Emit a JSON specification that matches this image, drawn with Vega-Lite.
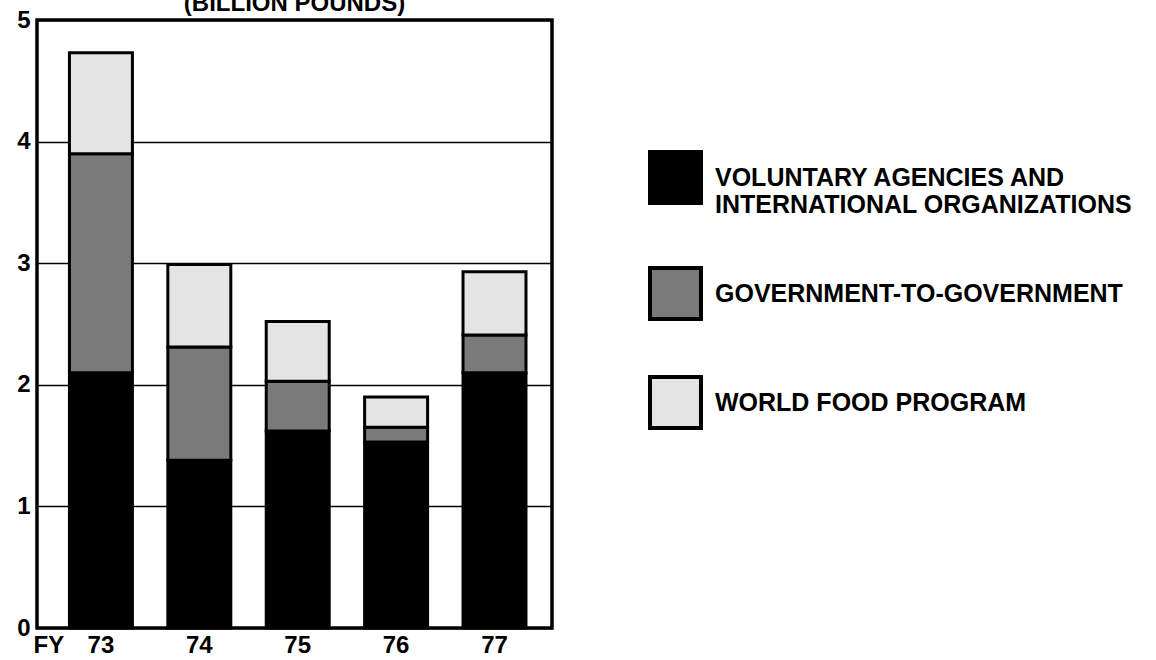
{
  "$schema": "https://vega.github.io/schema/vega-lite/v6.json",
  "autosize": {"type": "none"},
  "padding": {"left": 37, "top": 20, "right": 604, "bottom": 32},
  "width": 515,
  "height": 608,
  "background": "white",
  "title": {"text": "(BILLION POUNDS)", "fontSize": 24, "fontWeight": "bold", "font": "Liberation Sans", "color": "black", "anchor": "middle", "baseline": "alphabetic", "offset": -27, "frame": "group"},
  "data": {"values": [
    {"year": "73", "program": "VOLUNTARY AGENCIES AND INTERNATIONAL ORGANIZATIONS", "rank": 1, "value": 2.10},
    {"year": "73", "program": "GOVERNMENT-TO-GOVERNMENT", "rank": 2, "value": 1.80},
    {"year": "73", "program": "WORLD FOOD PROGRAM", "rank": 3, "value": 0.83},
    {"year": "74", "program": "VOLUNTARY AGENCIES AND INTERNATIONAL ORGANIZATIONS", "rank": 1, "value": 1.38},
    {"year": "74", "program": "GOVERNMENT-TO-GOVERNMENT", "rank": 2, "value": 0.93},
    {"year": "74", "program": "WORLD FOOD PROGRAM", "rank": 3, "value": 0.68},
    {"year": "75", "program": "VOLUNTARY AGENCIES AND INTERNATIONAL ORGANIZATIONS", "rank": 1, "value": 1.62},
    {"year": "75", "program": "GOVERNMENT-TO-GOVERNMENT", "rank": 2, "value": 0.41},
    {"year": "75", "program": "WORLD FOOD PROGRAM", "rank": 3, "value": 0.49},
    {"year": "76", "program": "VOLUNTARY AGENCIES AND INTERNATIONAL ORGANIZATIONS", "rank": 1, "value": 1.53},
    {"year": "76", "program": "GOVERNMENT-TO-GOVERNMENT", "rank": 2, "value": 0.12},
    {"year": "76", "program": "WORLD FOOD PROGRAM", "rank": 3, "value": 0.25},
    {"year": "77", "program": "VOLUNTARY AGENCIES AND INTERNATIONAL ORGANIZATIONS", "rank": 1, "value": 2.10},
    {"year": "77", "program": "GOVERNMENT-TO-GOVERNMENT", "rank": 2, "value": 0.31},
    {"year": "77", "program": "WORLD FOOD PROGRAM", "rank": 3, "value": 0.52}
  ]},
  "mark": {"type": "bar", "stroke": "black", "strokeWidth": 3, "opacity": 1},
  "encoding": {
    "x": {
      "field": "year", "type": "nominal",
      "scale": {"paddingInner": 0.36, "paddingOuter": 0.297, "align": 0.555},
      "axis": {"title": "FY", "titleX": -4, "titleY": 5, "titleAlign": "left", "titleBaseline": "top", "titleFontSize": 24, "titleFontWeight": "bold", "titleFont": "Liberation Sans", "titleColor": "black",
               "labelAngle": 0, "labelFontSize": 24, "labelFontWeight": "bold", "labelFont": "Liberation Sans", "labelColor": "black", "ticks": false, "domain": false, "labelPadding": 5}
    },
    "y": {
      "field": "value", "type": "quantitative", "stack": "zero",
      "scale": {"domain": [0, 5], "nice": false},
      "axis": {"title": null, "values": [0, 1, 2, 3, 4, 5], "grid": true, "gridColor": "black", "gridWidth": 1.5, "gridOpacity": 1, "domain": false, "ticks": false,
               "labelFontSize": 24, "labelFontWeight": "bold", "labelFont": "Liberation Sans", "labelColor": "black", "labelPadding": 7}
    },
    "order": {"field": "rank", "type": "quantitative", "sort": "ascending"},
    "color": {
      "field": "program", "type": "nominal",
      "scale": {"domain": ["VOLUNTARY AGENCIES AND INTERNATIONAL ORGANIZATIONS", "GOVERNMENT-TO-GOVERNMENT", "WORLD FOOD PROGRAM"], "range": ["#000000", "#7a7a7a", "#e4e4e4"]},
      "legend": {"orient": "none", "legendX": 611, "legendY": 130, "title": null, "direction": "vertical", "symbolType": "square", "symbolSize": 2600, "symbolStrokeColor": "black", "symbolStrokeWidth": 4, "symbolOpacity": 1,
                 "labelFontSize": 25, "labelFontWeight": "bold", "labelFont": "Liberation Sans", "labelColor": "black", "labelOffset": 12, "labelLimit": 700, "rowPadding": 42, "padding": 0,
                 "labelExpr": "datum.label == 'VOLUNTARY AGENCIES AND INTERNATIONAL ORGANIZATIONS' ? ['VOLUNTARY AGENCIES AND', 'INTERNATIONAL ORGANIZATIONS'] : datum.label"}
    }
  },
  "config": {"view": {"stroke": "black", "strokeWidth": 3.5}, "font": "Liberation Sans"}
}
